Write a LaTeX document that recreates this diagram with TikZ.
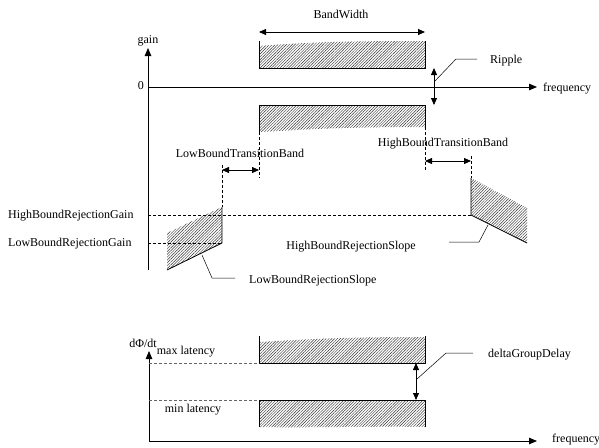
\documentclass[tikz,border=0pt]{standalone}
\usepackage{fontspec}
\setmainfont{Liberation Serif}
\usetikzlibrary{arrows.meta,patterns.meta}

\tikzset{
  axis/.style={line width=0.8pt, -{Triangle[length=8pt,width=6.5pt]}},
  dimarrow/.style={line width=0.8pt, {Triangle[length=7pt,width=6pt]}-{Triangle[length=7pt,width=6pt]}},
  hatch/.style={pattern={Lines[angle=45,distance=2pt,line width=0.45pt]}, pattern color=black!80},
  guide/.style={dash pattern=on 3pt off 2pt, line width=0.5pt},
  rim/.style={line width=0.8pt},
  leader/.style={line width=0.5pt},
  lbl/.style={font=\fontsize{12}{14}\selectfont, inner sep=1pt},
}

\begin{document}
\begin{tikzpicture}[x=1pt, y=-1pt]
    \useasboundingbox (0,0) rectangle (599,447);

    % --- 座標軸（利得） ---
    \coordinate (g0) at (148,270);
    \coordinate (gtop) at (148,48);
    \coordinate (f0) at (148,87);
    \coordinate (fend) at (537,87);
    \draw[axis] (g0) -- (gtop);
    \draw[axis] (f0) -- (fend);
    \node[lbl] (gain) at (148,41) {gain};
    \node[lbl, anchor=east] (zero) at (145,86) {0};
    \node[lbl, anchor=west] (freqA) at (542,89) {frequency};

    % --- 通過帯域 ---
    \path[hatch] (259,68) -- (259,46) .. controls (300,43) and (330,41) .. (425,41) -- (425,68) -- cycle;
    \draw[rim] (259,41) -- (259,68) -- (425,68) -- (425,41);
    \path[hatch] (259,105) -- (259,132) .. controls (300,130) and (330,127) .. (425,127) -- (425,105) -- cycle;
    \draw[rim] (259,132) -- (259,105) -- (425,105) -- (425,127);

    % 帯域幅
    \coordinate (bwL) at (259,32);
    \coordinate (bwR) at (425,32);
    \draw[dimarrow] (bwL) -- (bwR);
    \node[lbl] (bw) at (341,14) {BandWidth};

    % リップル
    \coordinate (rpT) at (434,68);
    \coordinate (rpB) at (434,105);
    \draw[dimarrow] (rpT) -- (rpB);
    \node[lbl, anchor=west] (ripple) at (489,61) {Ripple};
    \draw[leader] (434,82) -- (456,59) -- (477,59);

    % --- 遷移帯域 ---
    \foreach \x/\a/\b in {259/132/178, 425/127/170, 222/165/207, 471/156/178} {
        \draw[guide] (\x,\a) -- (\x,\b);
    }
    \coordinate (ltL) at (222,170);
    \coordinate (ltR) at (259,170);
    \draw[dimarrow] (ltL) -- (ltR);
    \node[lbl] (lbtb) at (240,153) {LowBoundTransitionBand};
    \coordinate (htL) at (425,161);
    \coordinate (htR) at (471,161);
    \draw[dimarrow] (htL) -- (htR);
    \node[lbl] (hbtb) at (443,144) {HighBoundTransitionBand};

    % --- 阻止帯域 ---
    \path[hatch] (222,207) -- (222,243) -- (167,270) -- (167,233) -- cycle;
    \draw[rim] (222,207) -- (222,243) -- (167,270);
    \path[hatch] (471,178) -- (471,215) -- (527,243) -- (527,208) -- cycle;
    \draw[rim] (471,178) -- (471,215) -- (527,243);
    \draw[guide] (148,215) -- (471,215);
    \draw[guide] (148,243) -- (222,243);
    \node[lbl, anchor=west] (hbrg) at (7,216) {HighBoundRejectionGain};
    \node[lbl, anchor=west] (lbrg) at (7,244) {LowBoundRejectionGain};

    % 傾き
    \draw[leader] (202,255) -- (212,278) -- (235,278);
    \node[lbl, anchor=west] (lbrs) at (248,281) {LowBoundRejectionSlope};
    \draw[leader] (488,225) -- (479,242) -- (449,242);
    \node[lbl] (hbrs) at (351,247) {HighBoundRejectionSlope};

    % --- 群遅延 ---
    \coordinate (d0) at (149,441);
    \draw[axis] (d0) -- (149,351);
    \draw[axis] (d0) -- (537,441);
    \node[lbl] (dphi) at (143,343) {dΦ/dt};
    \node[lbl] (maxlat) at (186,352) {max latency};
    \node[lbl] (minlat) at (193,410) {min latency};
    \node[lbl, anchor=west] (freqB) at (551,440) {frequency};

    \path[hatch] (259,363) -- (259,342) .. controls (300,340) and (330,337) .. (425,337) -- (425,363) -- cycle;
    \draw[rim] (259,336) -- (259,363) -- (425,363) -- (425,336);
    \path[hatch] (259,400) -- (259,427) .. controls (300,428) and (380,426) .. (425,427) -- (425,400) -- cycle;
    \draw[rim] (259,427) -- (259,400) -- (425,400) -- (425,427);
    \foreach \y in {363,400} {
        \draw[guide, black!60] (149,\y) -- (259,\y);
    }

    \coordinate (dgT) at (416,363);
    \coordinate (dgB) at (416,400);
    \draw[dimarrow] (dgT) -- (dgB);
    \node[lbl, anchor=west] (dgd) at (487,355) {deltaGroupDelay};
    \draw[leader] (417,379) -- (446,353) -- (473,353);

\end{tikzpicture}
\end{document}
